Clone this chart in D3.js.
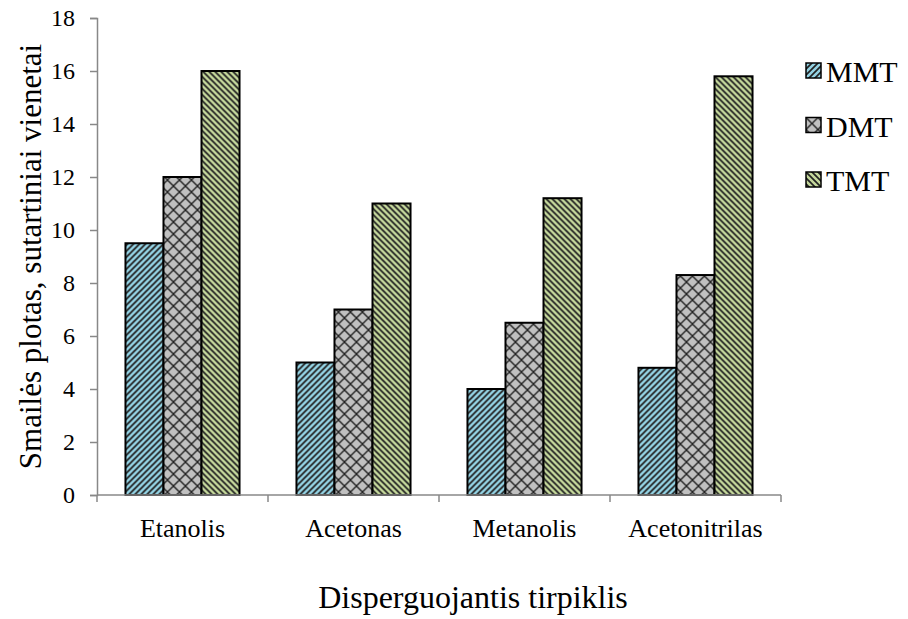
<!DOCTYPE html>
<html>
<head>
<meta charset="utf-8">
<script src="https://cdn.jsdelivr.net/npm/d3@7"></script>
<style>
  body { margin: 0; background: #fff; }
</style>
</head>
<body>
<div id="chart"></div>
<script>
const categories = ["Etanolis", "Acetonas", "Metanolis", "Acetonitrilas"];
const seriesNames = ["MMT", "DMT", "TMT"];
const mmtValues = [9.5, 5, 4, 4.8];
const dmtValues = [12, 7, 6.5, 8.3];
const tmtValues = [16, 11, 11.2, 15.8];
const yTicks = [0, 2, 4, 6, 8, 10, 12, 14, 16, 18];

const FONT = "'Liberation Serif', 'Times New Roman', Times, serif";

const seriesValues = [mmtValues, dmtValues, tmtValues];
const data = categories.map((c, i) => ({
    cat: c,
    vals: seriesNames.map((s, j) => ({ key: s, value: seriesValues[j][i] }))
}));

const W = 908, H = 619;
const margin = { top: 18, right: 127, bottom: 124, left: 97 };
const width = W - margin.left - margin.right;
const height = H - margin.top - margin.bottom;

const svg = d3.select("#chart").append("svg")
    .attr("width", W)
    .attr("height", H)
    .style("font-family", FONT);

// hatch patterns
const defs = svg.append("defs");
function hatch(id, size, bg, d, sw) {
    const p = defs.append("pattern")
        .attr("id", id)
        .attr("patternUnits", "userSpaceOnUse")
        .attr("width", size).attr("height", size);
    p.append("rect").attr("width", size).attr("height", size).attr("fill", bg);
    p.append("path").attr("d", d).attr("stroke", "#222").attr("stroke-width", sw);
}
hatch("pMMT", 6, "#93d2e3", "M-1,1 l2,-2 M0,6 l6,-6 M5,7 l2,-2", 1.7);
hatch("pDMT", 12, "#c0c0c0", "M0,0 L12,12 M12,0 L0,12", 1.4);
hatch("pTMT", 6, "#c4d79b", "M-1,5 l2,2 M0,0 l6,6 M5,-1 l2,2", 1.7);
const fills = { MMT: "url(#pMMT)", DMT: "url(#pDMT)", TMT: "url(#pTMT)" };

const g = svg.append("g")
    .attr("transform", "translate(" + margin.left + "," + margin.top + ")");

const x0 = d3.scaleBand()
    .domain(categories)
    .range([0, width])
    .paddingInner(0.333)
    .paddingOuter(0.1665);
const x0Axis = d3.scaleBand().domain(categories).range([0, width]);

const x1 = d3.scaleBand()
    .domain(seriesNames)
    .range([0, x0.bandwidth()]);

const y = d3.scaleLinear()
    .domain([0, 18])
    .range([height, 0]);

// bars
const groups = g.selectAll(".grp")
    .data(data)
    .enter().append("g")
    .attr("class", "grp")
    .attr("transform", d => "translate(" + x0(d.cat) + ",0)");

groups.selectAll("rect")
    .data(d => d.vals)
    .enter().append("rect")
    .attr("x", d => x1(d.key))
    .attr("y", d => y(d.value))
    .attr("width", x1.bandwidth())
    .attr("height", d => height - y(d.value))
    .attr("fill", d => fills[d.key])
    .attr("stroke", "#000")
    .attr("stroke-width", 2);

// y axis
const yAxis = g.append("g")
    .call(d3.axisLeft(y).tickValues(yTicks).tickSize(7).tickPadding(15))
    .attr("font-family", FONT)
    .attr("font-size", 24);
yAxis.select(".domain").attr("stroke", "#888").attr("stroke-width", 1.5);
yAxis.selectAll(".tick line").attr("stroke", "#888").attr("stroke-width", 1.5);
yAxis.selectAll("text").attr("fill", "#000");

// x axis with boundary ticks
const xAxisG = g.append("g")
    .attr("transform", "translate(0," + height + ")");
xAxisG.append("line")
    .attr("x1", 0).attr("x2", width)
    .attr("stroke", "#888").attr("stroke-width", 1.5);
const boundaries = categories.map(c => x0Axis(c)).concat([width]);
xAxisG.selectAll(".bt")
    .data(boundaries)
    .enter().append("line")
    .attr("x1", d => d).attr("x2", d => d)
    .attr("y1", 0).attr("y2", 7)
    .attr("stroke", "#888").attr("stroke-width", 1.5);
xAxisG.selectAll(".lbl")
    .data(categories)
    .enter().append("text")
    .attr("x", d => x0Axis(d) + x0Axis.bandwidth() / 2)
    .attr("y", 42)
    .attr("text-anchor", "middle")
    .attr("font-family", FONT)
    .attr("font-size", 26)
    .text(d => d);

// axis titles
svg.append("text")
    .attr("transform", "translate(41," + (margin.top + height / 2) + ") rotate(-90)")
    .attr("text-anchor", "middle")
    .attr("font-family", FONT)
    .attr("font-size", 31)
    .text("Smailės plotas, sutartiniai vienetai");

svg.append("text")
    .attr("x", 473)
    .attr("y", 608)
    .attr("text-anchor", "middle")
    .attr("font-family", FONT)
    .attr("font-size", 32)
    .text("Disperguojantis tirpiklis");

// legend
const legend = svg.append("g")
    .attr("transform", "translate(806,63)");
const li = legend.selectAll(".li")
    .data(seriesNames)
    .enter().append("g")
    .attr("transform", (d, i) => "translate(0," + i * 54.5 + ")");
li.append("rect")
    .attr("width", 15).attr("height", 15)
    .attr("fill", d => fills[d])
    .attr("stroke", "#000").attr("stroke-width", 1.5);
li.append("text")
    .attr("x", 20)
    .attr("y", 19)
    .attr("font-family", FONT)
    .attr("font-size", 30)
    .text(d => d);
</script>
</body>
</html>
